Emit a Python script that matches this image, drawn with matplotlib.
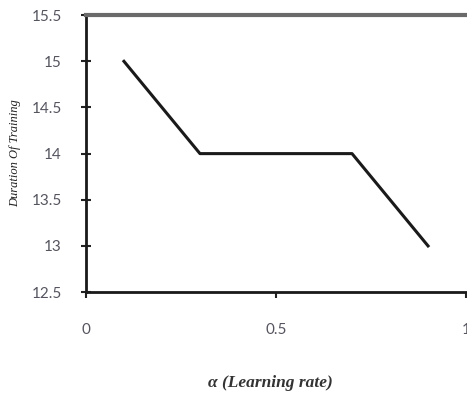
import matplotlib.pyplot as plt

alpha = [0.1, 0.3, 0.7, 0.9]
duration = [15, 14, 14, 13]
yticks = [12.5, 13, 13.5, 14, 14.5, 15, 15.5]
xticks = [0, 0.5, 1]

fig = plt.figure(figsize=(4.67, 3.99), dpi=100)
ax = fig.add_axes([0.184, 0.268, 0.814, 0.694])

ax.plot(alpha, duration, color='#1a1a1a', linewidth=2.2)

ax.set_xlim(0, 1)
ax.set_ylim(12.5, 15.5)
ax.set_yticks(yticks)
ax.set_yticklabels(['12.5', '13', '13.5', '14', '14.5', '15', '15.5'])
ax.set_xticks(xticks)
ax.set_xticklabels(['0', '0.5', '1'])

for lab in ax.get_yticklabels() + ax.get_xticklabels():
    lab.set_fontfamily('Lato')
    lab.set_fontsize(11)
    lab.set_color('#555560')

ax.tick_params(axis='y', direction='inout', length=7, width=1.5, pad=14, color='#222222')
ax.tick_params(axis='x', direction='out', length=4, width=1.5, pad=18, color='#222222')

ax.spines['right'].set_visible(False)
ax.spines['left'].set_linewidth(2)
ax.spines['left'].set_color('#1a1a1a')
ax.spines['bottom'].set_linewidth(2)
ax.spines['bottom'].set_color('#1a1a1a')
ax.spines['top'].set_linewidth(3)
ax.spines['top'].set_color('#6a6a6a')

ax.set_ylabel('Duration Of Training', family='Liberation Serif', style='italic',
              fontsize=9, labelpad=6, color='#222222')
ax.yaxis.set_label_coords(-0.17, 0.5)
ax.set_xlabel('α (Learning rate)', family='Liberation Serif', style='italic',
              fontweight='bold', fontsize=12.5, color='#333333')
ax.xaxis.set_label_coords(0.485, -0.3)

fig.savefig('out.png', dpi=100)
